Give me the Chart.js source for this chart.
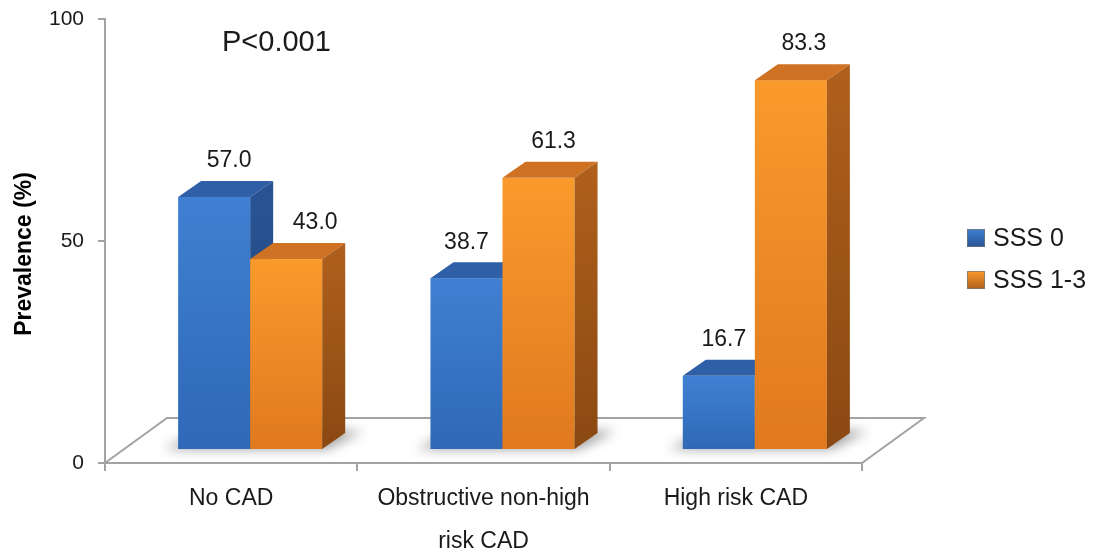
<!DOCTYPE html>
<html>
<head>
<meta charset="utf-8">
<script src="https://cdn.jsdelivr.net/npm/chart.js@4.4.0/dist/chart.umd.min.js"></script>
<style>
  html, body { margin: 0; padding: 0; background: #ffffff; }
  #wrap { width: 1105px; height: 555px; position: relative; }
</style>
</head>
<body>
<div id="wrap"><canvas id="c" width="1105" height="555"></canvas></div>
<script>
// ---- data ----
const categories = ['No CAD', ['Obstructive non-high', 'risk CAD'], 'High risk CAD'];
const seriesNames = ['SSS 0', 'SSS 1-3'];
const sss0 = [57.0, 38.7, 16.7];
const sss13 = [43.0, 61.3, 83.3];
const yTicks = [0, 50, 100];
const yTitle = 'Prevalence (%)';
const pValueText = 'P<0.001';

// ---- styling ----
const FONT = '"Liberation Sans", Arial, Helvetica, sans-serif';
Chart.defaults.font.family = FONT;
const palette = [
  { frontTop: '#3f80d2', frontBot: '#2f68b6', top: '#2f5fa6', sideTop: '#295494', sideBot: '#1f4378' },
  { frontTop: '#fa9a2c', frontBot: '#e0791f', top: '#cf7224', sideTop: '#b0601c', sideBot: '#8a4912' }
];
// horizontal nudges of value labels (style only), per series then per category
const labelNudge = [[15, 0, 5], [29, 15, 13]];
const FACE_DX = 19, FACE_DY = 13;     // front face offset from axis plane
const DEPTH_X = 23, DEPTH_Y = 16;     // bar depth
const FLOOR_DX = 62, FLOOR_DY = 45;   // floor depth
const AXIS_GRAY = '#a3a3a3';

const bars3d = {
  id: 'bars3d',
  beforeDatasetsDraw(chart) {
    const ctx = chart.ctx;
    const ca = chart.chartArea;
    const ys = chart.scales.y;
    const y0 = ys.getPixelForValue(0);
    // floor
    ctx.save();
    ctx.beginPath();
    ctx.moveTo(ca.left, y0);
    ctx.lineTo(ca.right, y0);
    ctx.lineTo(ca.right + FLOOR_DX, y0 - FLOOR_DY);
    ctx.lineTo(ca.left + FLOOR_DX, y0 - FLOOR_DY);
    ctx.closePath();
    ctx.fillStyle = '#ffffff';
    ctx.fill();
    ctx.strokeStyle = AXIS_GRAY;
    ctx.lineWidth = 2;
    ctx.stroke();
    ctx.restore();
    // soft shadows under each group
    const metas = chart.data.datasets.map((d, i) => chart.getDatasetMeta(i));
    const n = chart.data.labels.length;
    for (let i = 0; i < n; i++) {
      const first = metas[0].data[i].getProps(['x', 'base', 'width'], true);
      const last = metas[metas.length - 1].data[i].getProps(['x', 'base', 'width'], true);
      const l = first.x - first.width / 2 + FACE_DX;
      const r = last.x + last.width / 2 + FACE_DX;
      const b = first.base - FACE_DY;
      ctx.save();
      ctx.filter = 'blur(6px)';
      ctx.fillStyle = 'rgba(0,0,0,0.38)';
      ctx.beginPath();
      ctx.moveTo(l - 14, b);
      ctx.lineTo(r + 4, b);
      ctx.lineTo(r + DEPTH_X + 18, b - DEPTH_Y - 2);
      ctx.lineTo(l + DEPTH_X, b - DEPTH_Y - 2);
      ctx.closePath();
      ctx.fill();
      ctx.restore();
    }
  },
  afterDatasetsDraw(chart) {
    const ctx = chart.ctx;
    const n = chart.data.labels.length;
    const nd = chart.data.datasets.length;
    const labelsToDraw = [];
    for (let i = 0; i < n; i++) {
      for (let d = 0; d < nd; d++) {
        const el = chart.getDatasetMeta(d).data[i];
        const p = el.getProps(['x', 'y', 'base', 'width'], true);
        const c = palette[d];
        const L = p.x - p.width / 2 + FACE_DX;
        const R = p.x + p.width / 2 + FACE_DX;
        const T = p.y - FACE_DY;
        const B = p.base - FACE_DY;
        ctx.save();
        // front
        let g = ctx.createLinearGradient(0, T, 0, B);
        g.addColorStop(0, c.frontTop);
        g.addColorStop(1, c.frontBot);
        ctx.fillStyle = g;
        ctx.fillRect(L, T, R - L, B - T);
        // top
        ctx.beginPath();
        ctx.moveTo(L, T);
        ctx.lineTo(R, T);
        ctx.lineTo(R + DEPTH_X, T - DEPTH_Y);
        ctx.lineTo(L + DEPTH_X, T - DEPTH_Y);
        ctx.closePath();
        ctx.fillStyle = c.top;
        ctx.fill();
        // side
        g = ctx.createLinearGradient(0, T - DEPTH_Y, 0, B);
        g.addColorStop(0, c.sideTop);
        g.addColorStop(1, c.sideBot);
        ctx.beginPath();
        ctx.moveTo(R, T);
        ctx.lineTo(R + DEPTH_X, T - DEPTH_Y);
        ctx.lineTo(R + DEPTH_X, B - DEPTH_Y);
        ctx.lineTo(R, B);
        ctx.closePath();
        ctx.fillStyle = g;
        ctx.fill();
        ctx.restore();
        const v = chart.data.datasets[d].data[i];
        labelsToDraw.push({ text: v.toFixed(1), x: (L + R) / 2 + labelNudge[d][i], y: T - DEPTH_Y - 20 });
      }
    }
    ctx.save();
    ctx.fillStyle = '#1a1a1a';
    ctx.font = '23px ' + FONT;
    ctx.textAlign = 'center';
    ctx.textBaseline = 'middle';
    labelsToDraw.forEach(l => ctx.fillText(l.text, l.x, l.y));
    // p-value annotation
    ctx.font = '29px ' + FONT;
    ctx.textAlign = 'left';
    ctx.fillText(pValueText, 222, 43);
    // y-axis title
    ctx.save();
    ctx.translate(25, 254);
    ctx.rotate(-Math.PI / 2);
    ctx.font = 'bold 23px ' + FONT;
    ctx.fillStyle = '#000';
    ctx.textAlign = 'center';
    ctx.textBaseline = 'middle';
    ctx.fillText(yTitle, 0, 0);
    ctx.restore();
    // legend
    const lx = 967, ly = [238, 280];
    chart.data.datasets.forEach((ds, d) => {
      const c = palette[d];
      const cy = ly[d];
      const g = ctx.createLinearGradient(0, cy - 9, 0, cy + 9);
      g.addColorStop(0, c.frontTop);
      g.addColorStop(1, c.sideTop);
      ctx.fillStyle = g;
      ctx.fillRect(lx, cy - 9, 18, 18);
      ctx.strokeStyle = 'rgba(120,120,120,0.7)';
      ctx.lineWidth = 1;
      ctx.strokeRect(lx + 0.5, cy - 8.5, 17, 17);
      ctx.fillStyle = '#1a1a1a';
      ctx.font = '25px ' + FONT;
      ctx.textAlign = 'left';
      ctx.textBaseline = 'middle';
      ctx.fillText(ds.label, lx + 26, cy + 1);
    });
    ctx.restore();
  }
};

new Chart(document.getElementById('c'), {
  type: 'bar',
  data: {
    labels: categories,
    datasets: [
      { label: seriesNames[0], data: sss0, backgroundColor: 'rgba(0,0,0,0)', borderWidth: 0 },
      { label: seriesNames[1], data: sss13, backgroundColor: 'rgba(0,0,0,0)', borderWidth: 0 }
    ]
  },
  options: {
    responsive: false,
    animation: false,
    layout: { padding: { top: 19, right: 243, bottom: 0, left: 0 } },
    plugins: { legend: { display: false }, tooltip: { enabled: false } },
    datasets: { bar: { categoryPercentage: 0.571, barPercentage: 1.0 } },
    scales: {
      x: {
        grid: { display: true, drawOnChartArea: false, drawTicks: true, tickLength: 8, offset: true, color: AXIS_GRAY, lineWidth: 2 },
        border: { display: true, color: AXIS_GRAY, width: 2 },
        ticks: { color: '#1a1a1a', padding: 6, maxRotation: 0, autoSkip: false, font: { size: 23, lineHeight: 1.88 } },
        afterFit(s) { s.height = 92; s.paddingLeft = 0; s.paddingRight = 0; }
      },
      y: {
        min: 0, max: 100,
        afterBuildTicks(s) { s.ticks = yTicks.map(v => ({ value: v })); },
        grid: { display: true, drawOnChartArea: false, drawTicks: true, tickLength: 7, color: AXIS_GRAY, lineWidth: 2 },
        border: { display: true, color: AXIS_GRAY, width: 2 },
        ticks: { color: '#1a1a1a', padding: 14, font: { size: 21 } },
        title: { display: false },
        afterFit(s) { s.width = 105; s.paddingTop = 0; s.paddingBottom = 0; }
      }
    }
  },
  plugins: [bars3d]
});
</script>
</body>
</html>
